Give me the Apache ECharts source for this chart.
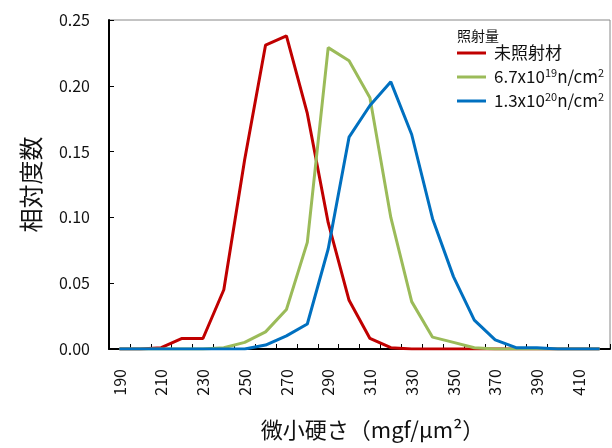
<!DOCTYPE html>
<html>
<head>
<meta charset="utf-8">
<script src="https://cdn.jsdelivr.net/npm/echarts@6/dist/echarts.min.js"></script>
<style>
  html, body { margin: 0; padding: 0; background: #fff; }
  #chart { width: 612px; height: 448px; }
</style>
</head>
<body>
<div id="chart"></div>
<script>
var hardness = ['190','200','210','220','230','240','250','260','270','280','290','300',
  '310','320','330','340','350','360','370','380','390','400','410','420'];

var seriesNames = ['未照射材', '6.7x10^19n/cm^2', '1.3x10^20n/cm^2'];
var legendLabels = ['未照射材', '6.7x10{sup|19}n/cm{sup|2}', '1.3x10{sup|20}n/cm{sup|2}'];
var colors = ['#c00000', '#9bbb59', '#0070c0'];

var unirradiated = [0, 0, 0.001, 0.008, 0.008, 0.045, 0.144, 0.231, 0.238, 0.179, 0.096, 0.037,
  0.008, 0.001, 0, 0, 0, 0, 0, 0, 0, 0, 0, 0];
var dose19 = [0, 0, 0, 0, 0, 0.001, 0.005, 0.013, 0.030, 0.081, 0.229, 0.219,
  0.191, 0.100, 0.036, 0.009, 0.005, 0.001, 0, 0, 0, 0, 0, 0];
var dose20 = [0, 0, 0, 0, 0, 0, 0, 0.003, 0.010, 0.019, 0.076, 0.161,
  0.185, 0.203, 0.163, 0.099, 0.055, 0.022, 0.007, 0.001, 0.001, 0, 0, 0];

var fontFamily = '"Noto Sans CJK JP", "Noto Sans", sans-serif';

var chart = echarts.init(document.getElementById('chart'));

function makeLine(i, data) {
  return {
    name: seriesNames[i],
    type: 'line',
    data: data,
    symbol: 'none',
    smooth: false,
    lineStyle: { width: 3, color: colors[i] },
    itemStyle: { color: colors[i] }
  };
}

var option = {
  animation: false,
  textStyle: { fontFamily: fontFamily },
  title: {
    text: '照射量',
    left: 452,
    top: 24,
    textStyle: { fontSize: 14, fontWeight: 'normal', color: '#111', fontFamily: fontFamily }
  },
  legend: {
    orient: 'vertical',
    left: 452,
    top: 38,
    itemWidth: 29,
    itemHeight: 3,
    itemGap: 4,
    icon: 'rect',
    data: seriesNames,
    formatter: function (name) {
      return legendLabels[seriesNames.indexOf(name)];
    },
    textStyle: {
      fontSize: 17,
      lineHeight: 20,
      color: '#111',
      fontFamily: fontFamily,
      padding: [0, 0, 0, 3],
      rich: {
        sup: { fontSize: 11, verticalAlign: 'top', lineHeight: 20, color: '#111', fontFamily: fontFamily }
      }
    }
  },
  grid: {
    left: 109,
    right: 2,
    top: 20,
    bottom: 99,
    show: true,
    borderColor: '#888',
    borderWidth: 1
  },
  xAxis: {
    type: 'category',
    data: hardness,
    boundaryGap: true,
    name: '微小硬さ（mgf/μm²）',
    nameLocation: 'middle',
    nameGap: 70,
    nameTextStyle: { fontSize: 22, color: '#111', padding: [0, 0, 0, 26] },
    axisLine: { lineStyle: { color: '#000', width: 2 } },
    axisTick: { show: true, inside: true, length: 5, interval: 0, lineStyle: { color: '#000' } },
    axisLabel: { interval: 1, rotate: 90, margin: 20, fontSize: 16, color: '#111' },
    splitLine: { show: false }
  },
  yAxis: {
    type: 'value',
    min: 0,
    max: 0.25,
    interval: 0.05,
    name: '相対度数',
    nameLocation: 'middle',
    nameRotate: 90,
    nameGap: 66,
    nameTextStyle: { fontSize: 24, color: '#111' },
    axisLine: { show: true, lineStyle: { color: '#000', width: 2 } },
    axisTick: { show: true, inside: true, length: 5, lineStyle: { color: '#000' } },
    axisLabel: {
      margin: 19,
      fontSize: 16,
      color: '#111',
      formatter: function (v) { return v.toFixed(2); }
    },
    splitLine: { show: false }
  },
  series: [
    makeLine(0, unirradiated),
    makeLine(1, dose19),
    makeLine(2, dose20)
  ]
};

chart.setOption(option);
</script>
</body>
</html>
